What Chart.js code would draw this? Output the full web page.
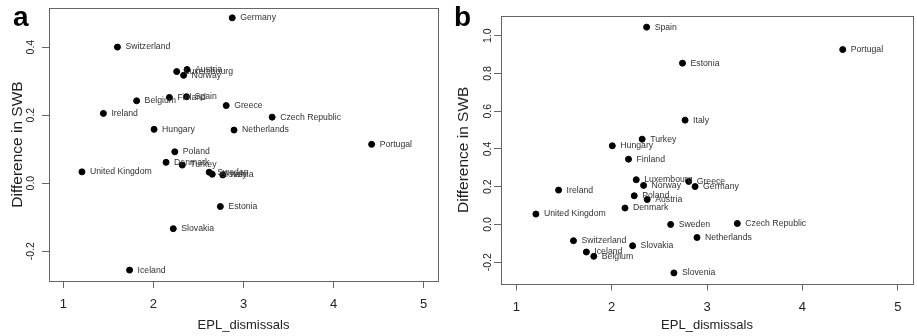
<!DOCTYPE html>
<html>
<head>
<meta charset="utf-8">
<script src="https://cdn.jsdelivr.net/npm/chart.js@4.4.1/dist/chart.umd.min.js"></script>
<style>
  html, body { margin: 0; padding: 0; background: #fff; }
  #wrap { position: relative; width: 917px; height: 336px; overflow: hidden; }
  canvas { position: absolute; top: 0; }
  #chartA { left: 0; }
  #chartB { left: 445px; }
</style>
</head>
<body>
<div id="wrap">
  <canvas id="chartA" width="445" height="336"></canvas>
  <canvas id="chartB" width="472" height="336"></canvas>
</div>
<script>
// Países e valores
const countries = ['Germany', 'Switzerland', 'Austria', 'Luxembourg', 'Norway', 'Belgium', 'Finland', 'Spain',
    'Greece', 'Ireland', 'Czech Republic', 'Hungary', 'Netherlands', 'Portugal', 'Poland', 'Denmark',
    'Turkey', 'United Kingdom', 'Sweden', 'Slovenia', 'Italy', 'Estonia', 'Slovakia', 'Iceland'];
const eplDismissals = [2.875, 1.60, 2.373, 2.258, 2.335, 1.813, 2.177, 2.367,
    2.808, 1.444, 3.318, 2.007, 2.895, 4.423, 2.237, 2.14,
    2.32, 1.206, 2.619, 2.653, 2.77, 2.743, 2.22, 1.735];
const swbA = [0.486, 0.40, 0.334, 0.328, 0.317, 0.242, 0.252, 0.254,
    0.228, 0.205, 0.194, 0.158, 0.156, 0.114, 0.092, 0.061,
    0.053, 0.033, 0.032, 0.026, 0.024, -0.069, -0.134, -0.256];
const swbB = [0.201, -0.086, 0.132, 0.237, 0.207, -0.169, 0.346, 1.046,
    0.228, 0.182, 0.005, 0.417, -0.069, 0.927, 0.152, 0.087,
    0.452, 0.055, 0.0, -0.257, 0.553, 0.855, -0.113, -0.146];

const xTicks = [1, 2, 3, 4, 5];
const yTicksA = [-0.2, 0.0, 0.2, 0.4];
const yTicksB = [-0.2, 0.0, 0.2, 0.4, 0.6, 0.8, 1.0];

const FONT = 'Liberation Sans, Arial, sans-serif';
const lineGray = '#666';

// Plugin: moldura, rótulos do eixo y (rodados), nomes dos países e letra do painel
const rDecor = {
    id: 'rDecor',
    afterDraw(chart, args, opts) {
        const { ctx, chartArea: a } = chart;
        ctx.save();
        ctx.strokeStyle = lineGray;
        ctx.lineWidth = 1;
        ctx.strokeRect(Math.round(a.left) + 0.5, Math.round(a.top) + 0.5,
            Math.round(a.right - a.left), Math.round(a.bottom - a.top));

        // rótulos do eixo y, paralelos ao eixo como no R
        const ys = chart.scales.y;
        ctx.fillStyle = '#222';
        ctx.font = '10.5px ' + FONT;
        ctx.textAlign = 'center';
        ctx.textBaseline = 'middle';
        ys.ticks.forEach(t => {
            const py = ys.getPixelForValue(t.value);
            ctx.save();
            ctx.translate(a.left - opts.yLabelOffset, py);
            ctx.rotate(-Math.PI / 2);
            ctx.fillText(t.value.toFixed(1), 0, 0);
            ctx.restore();
        });

        // nomes dos países à direita dos pontos
        ctx.fillStyle = '#333';
        ctx.font = '8.7px ' + FONT;
        ctx.textAlign = 'left';
        ctx.textBaseline = 'middle';
        chart.getDatasetMeta(0).data.forEach((el, i) => {
            ctx.fillText(countries[i], el.x + 8, el.y);
        });

        // letra do painel
        ctx.fillStyle = '#000';
        ctx.font = 'bold 28px ' + FONT;
        ctx.textAlign = 'left';
        ctx.textBaseline = 'alphabetic';
        ctx.fillText(opts.letter, opts.letterX, 26);
        ctx.restore();
    }
};

const makeChart = (id, yValues, yTicks, cfg) => {
    const ctx = document.getElementById(id).getContext('2d');
    return new Chart(ctx, {
        type: 'scatter',
        data: {
            datasets: [{
                data: eplDismissals.map((x, i) => ({ x: x, y: yValues[i] })),
                backgroundColor: '#000',
                borderColor: '#000',
                pointRadius: 3,
                pointHoverRadius: 3
            }]
        },
        options: {
            responsive: false,
            animation: false,
            devicePixelRatio: 1,
            layout: { padding: { left: 0, right: cfg.padRight, top: cfg.padTop, bottom: 0 } },
            plugins: {
                legend: { display: false },
                tooltip: { enabled: false },
                rDecor: { letter: cfg.letter, letterX: cfg.letterX, yLabelOffset: cfg.yLabelOffset }
            },
            scales: {
                x: {
                    type: 'linear',
                    min: 0.84,
                    max: 5.16,
                    afterBuildTicks: s => { s.ticks = xTicks.map(v => ({ value: v })); },
                    afterFit: s => { s.height = cfg.xHeight; },
                    grid: { drawOnChartArea: false, drawTicks: true, tickLength: 7, color: lineGray },
                    border: { display: false },
                    ticks: {
                        padding: 9,
                        color: '#222',
                        font: { family: FONT, size: 13 },
                        maxRotation: 0,
                        autoSkip: false,
                        callback: v => String(v)
                    },
                    title: {
                        display: true,
                        text: 'EPL_dismissals',
                        color: '#222',
                        font: { family: FONT, size: 13 },
                        padding: { top: 0, bottom: 2.5 }
                    }
                },
                y: {
                    type: 'linear',
                    min: cfg.yMin,
                    max: cfg.yMax,
                    afterBuildTicks: s => { s.ticks = yTicks.map(v => ({ value: v })); },
                    afterFit: s => { s.width = cfg.yWidth; },
                    grid: { drawOnChartArea: false, drawTicks: true, tickLength: 7, color: lineGray },
                    border: { display: false },
                    ticks: { display: false },
                    title: {
                        display: true,
                        text: 'Difference in SWB',
                        color: '#222',
                        font: { family: FONT, size: 15.5 },
                        padding: { top: cfg.yTitlePad, bottom: 0 }
                    }
                }
            }
        },
        plugins: [rDecor]
    });
};

makeChart('chartA', swbA, yTicksA, {
    letter: 'a', letterX: 13, yLabelOffset: 17.5,
    padRight: 7, padTop: 8, xHeight: 55, yWidth: 49,
    yMin: -0.288, yMax: 0.515, yTitlePad: 8
});

makeChart('chartB', swbB, yTicksB, {
    letter: 'b', letterX: 9, yLabelOffset: 12.7,
    padRight: 3.5, padTop: 16, xHeight: 52.5, yWidth: 56,
    yMin: -0.313, yMax: 1.105, yTitlePad: 9
});
</script>
</body>
</html>
